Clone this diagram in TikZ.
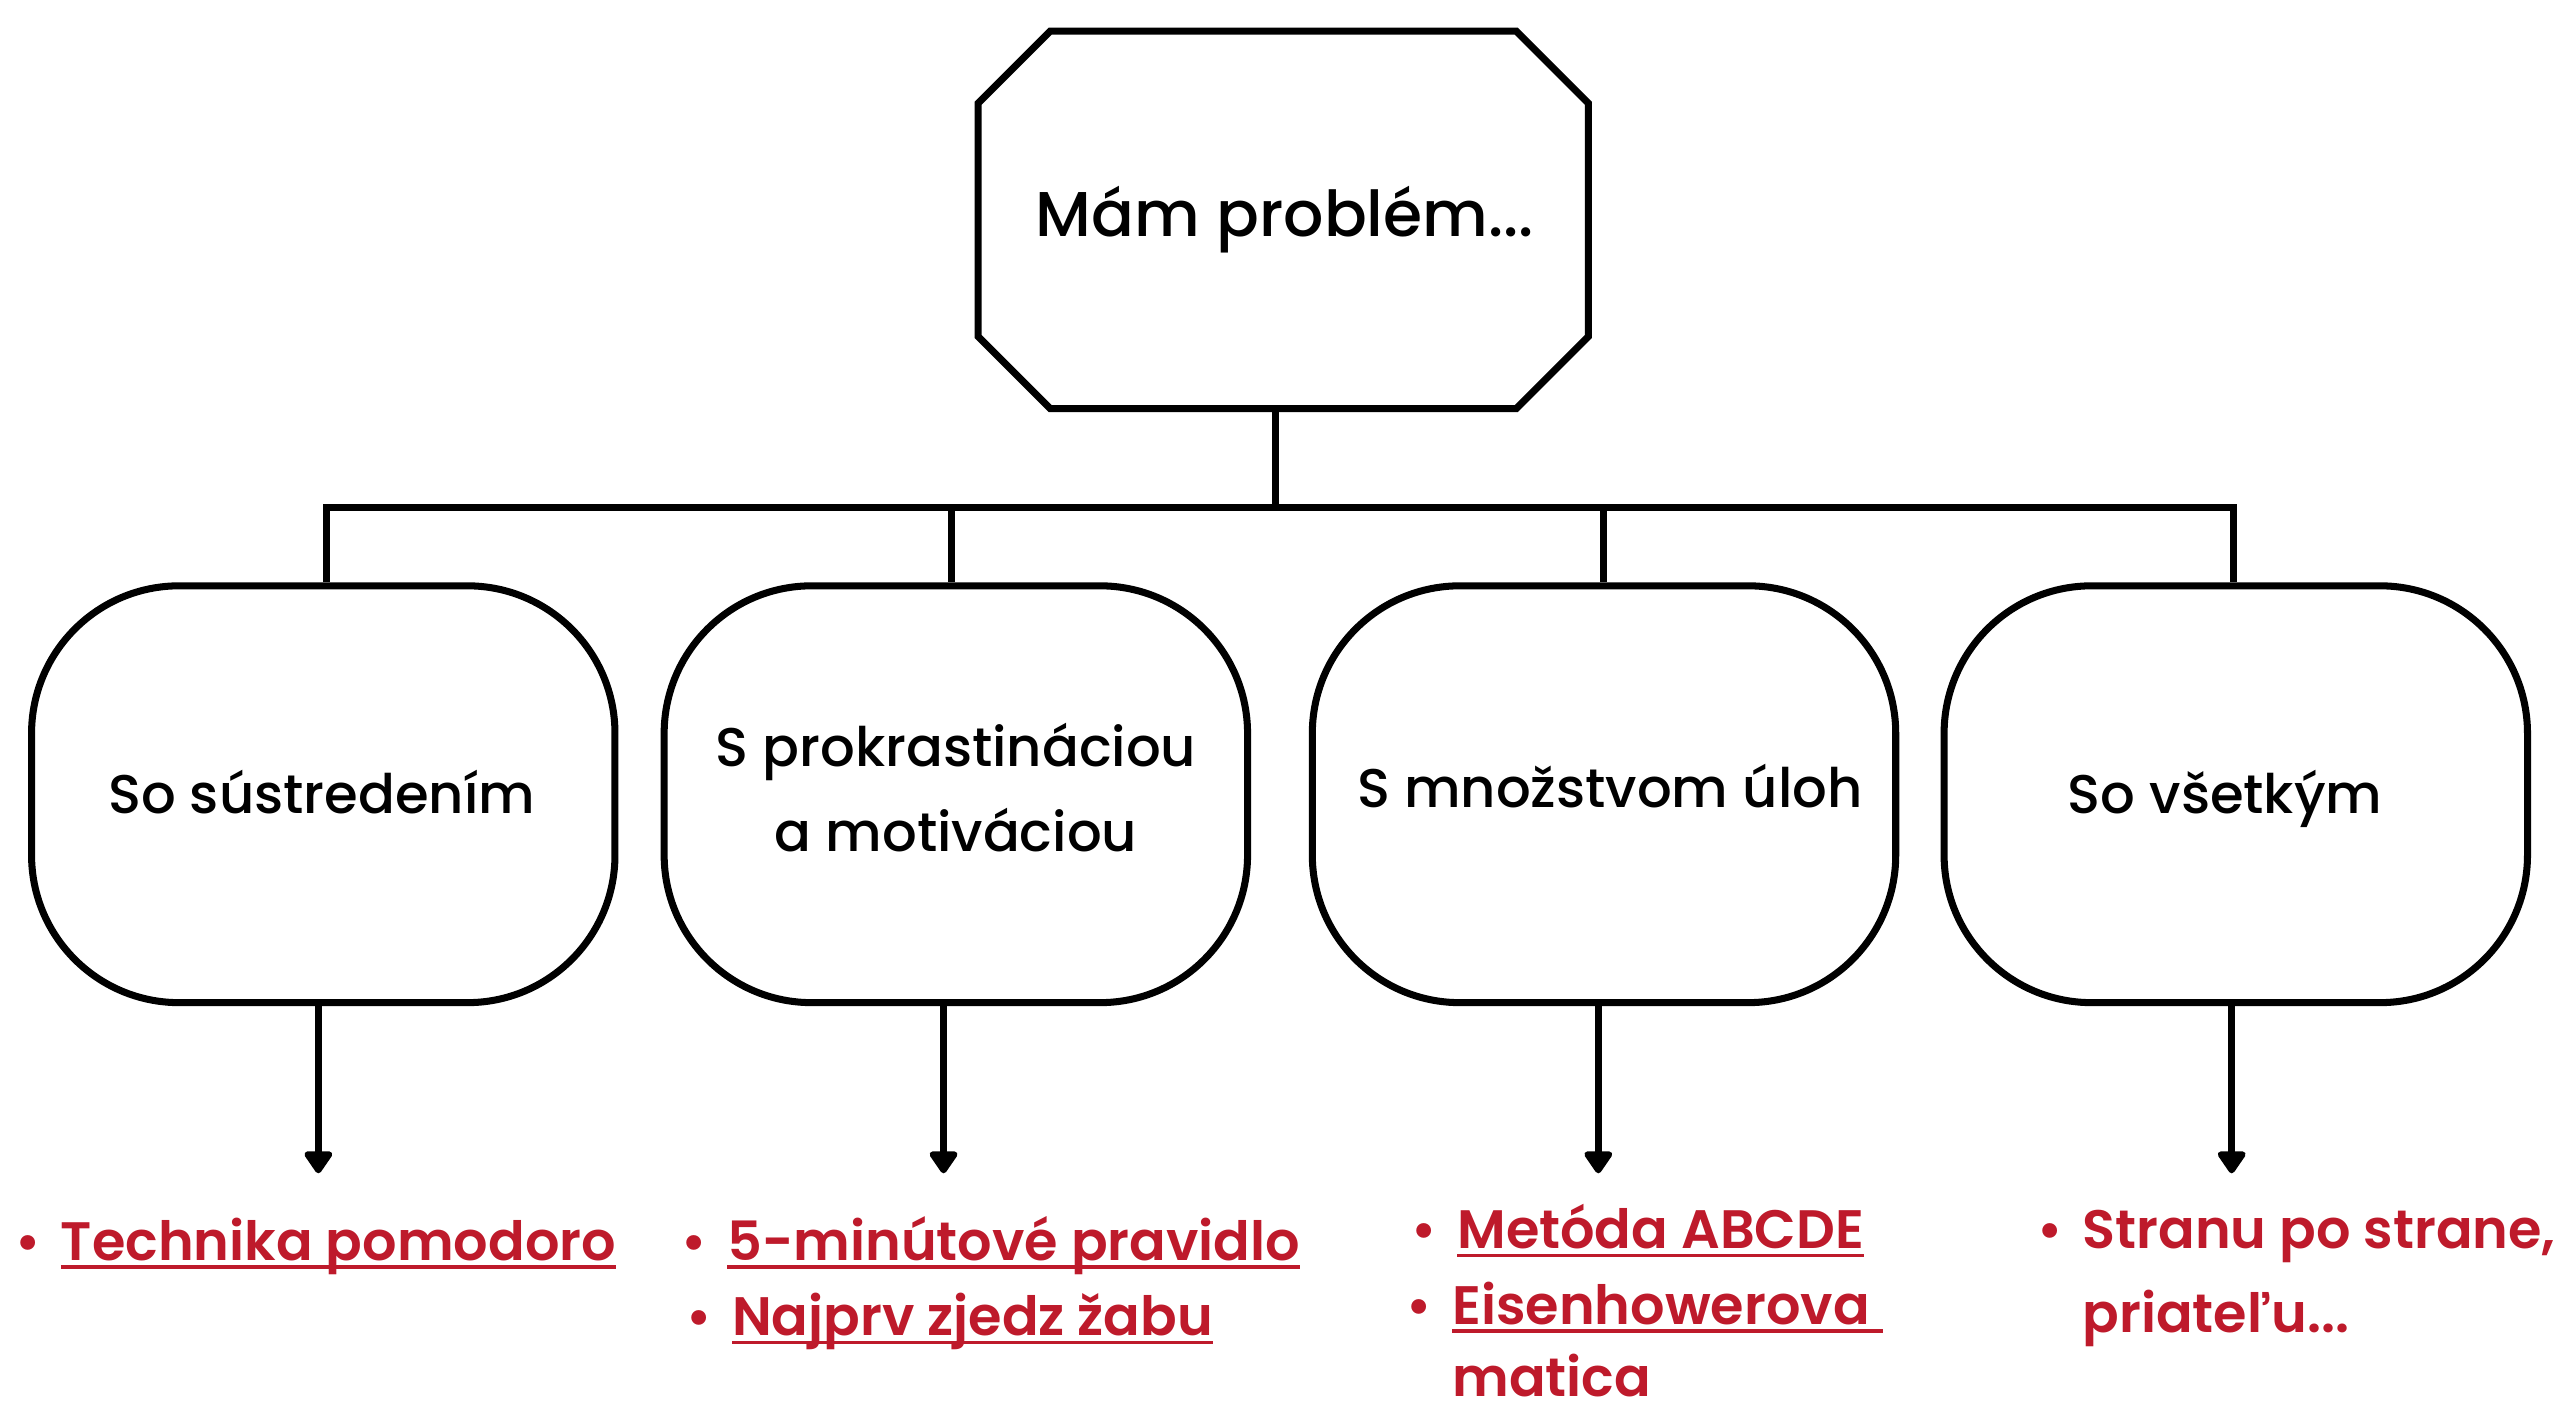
\documentclass[tikz,border=0pt]{standalone}
\usepackage{fontspec}
\setmainfont{Poppins}[UprightFont=* Medium, BoldFont=* SemiBold]
\usetikzlibrary{arrows.meta}
\definecolor{redtxt}{RGB}{190,26,43}
\newcommand\redul[1]{\setbox0\hbox{#1}\rlap{\rule[-2.4pt]{\wd0}{1pt}}\box0}
\newcommand\bul{\llap{\makebox[18.7pt]{\fontsize{15pt}{15pt}\selectfont •}}}
\begin{document}
\begin{tikzpicture}[x=0.4669pt,y=-0.4669pt,
  line width=2pt,
  octtext/.style={anchor=base, inner sep=0pt, font=\fontsize{18}{18}\selectfont},
  rbox/.style={draw, rounded corners=42pt, minimum width=166pt, minimum height=118.6pt, inner sep=0pt},
  boxtext/.style={anchor=base, inner sep=0pt, font=\fontsize{15.5}{15.5}\selectfont},
  redtext/.style={anchor=base west, inner sep=0pt, text=redtxt, font=\fontsize{15.4}{15.4}\selectfont\bfseries},
  arr/.style={-{Triangle[width=9pt,length=7pt,round]}}]
\fill[white] (0,0) rectangle (1568,860);
\useasboundingbox (0,0) rectangle (1568,860);

% top octagon
\coordinate (octs) at (777,249);
\draw[line join=miter] (640,19) -- (924,19) -- (968,63) -- (968,205) -- (924,249)
  -- (640,249) -- (596,205) -- (596,63) -- cycle;
\node[octtext] (oct) at (783,144) {Mám problém...};

\node[rbox] (b1) at (197,484) {};
\node[rbox] (b2) at (582.5,484) {};
\node[rbox] (b3) at (977.5,484) {};
\node[rbox] (b4) at (1362.5,484) {};

\node[boxtext] (t1) at (196,496) {So sústredením};
\node[boxtext] (t2a) at (582.5,467) {S prokrastináciou};
\node[boxtext] (t2b) at (582.5,519) {a motiváciou};
\node[boxtext] (t3) at (981,492) {S množstvom úloh};
\node[boxtext] (t4) at (1356,496) {So všetkým};

\coordinate (bus) at (777,309);
\coordinate (c1) at (199,309);
\coordinate (c2) at (580,309);
\coordinate (c3) at (977,309);
\coordinate (c4) at (1361,309);
\draw (octs) -- (bus);
\draw (c1 |- b1.north) -- (c1) -- (c4) -- (c4 |- b4.north);
\draw (c2) -- (c2 |- b2.north);
\draw (c3) -- (c3 |- b3.north);

\coordinate (a1) at (194,715);
\coordinate (a2) at (575,715);
\coordinate (a3) at (974,715);
\coordinate (a4) at (1360,715);
\draw[arr] (a1 |- b1.south) -- (a1);
\draw[arr] (a2 |- b2.south) -- (a2);
\draw[arr] (a3 |- b3.south) -- (a3);
\draw[arr] (a4 |- b4.south) -- (a4);

\node[redtext] (r1) at (35,768) {\bul\redul{Technika pomodoro}};
\node[redtext] (r2a) at (441,768) {\bul\redul{5-minútové pravidlo}};
\node[redtext] (r2b) at (444,814) {\bul\redul{Najprv zjedz žabu}};
\node[redtext] (r3a) at (886,761) {\bul\redul{Metóda ABCDE}};
\node[redtext] (r3b) at (883,807) {\bul\redul{Eisenhowerova\ }};
\node[redtext] (r3c) at (883,851) {matica};
\node[redtext] (r4a) at (1267,761) {\bul Stranu po strane,};
\node[redtext] (r4b) at (1267,812) {priateľu...};
\end{tikzpicture}
\end{document}
